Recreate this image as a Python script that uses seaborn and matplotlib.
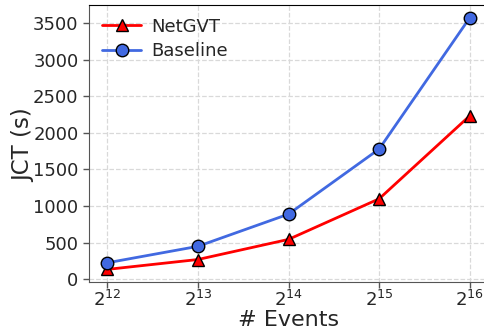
import matplotlib
matplotlib.use("Agg")
import matplotlib.pyplot as plt
import seaborn as sns
import pandas as pd

# Job completion time versus number of events
events = [2**12, 2**13, 2**14, 2**15, 2**16]
netgvt_jct = [135, 270, 545, 1100, 2235]
baseline_jct = [225, 450, 890, 1780, 3575]

sns.set_style("white")
plt.rcParams['font.family'] = ['DejaVu Sans']

fig = plt.figure(figsize=(4.84, 3.34), dpi=100)
ax = fig.add_axes([89 / 484, 52 / 334, 399 / 484, 277 / 334])

df_net = pd.DataFrame({"events": events, "jct": netgvt_jct})
df_base = pd.DataFrame({"events": events, "jct": baseline_jct})

sns.lineplot(data=df_net, x="events", y="jct", ax=ax, color="red", linewidth=2,
             marker="^", markersize=9, markerfacecolor="red",
             markeredgecolor="black", markeredgewidth=1, label="NetGVT")
sns.lineplot(data=df_base, x="events", y="jct", ax=ax, color="royalblue", linewidth=2,
             marker="o", markersize=9, markerfacecolor="royalblue",
             markeredgecolor="black", markeredgewidth=1, label="Baseline")

ax.set_xscale("log", base=2)
ax.set_xticks(events)
ax.set_yticks([0, 500, 1000, 1500, 2000, 2500, 3000, 3500])
ax.grid(True, linestyle="--", color="#d9d9d9", linewidth=0.9)
ax.set_axisbelow(True)

for side in ["left", "bottom"]:
    ax.spines[side].set_color("#555555")
ax.spines["top"].set_color("black")
ax.tick_params(axis="both", which="major", labelsize=13, length=4, width=1,
               color="#555555", direction="out", left=True, bottom=True)
ax.tick_params(axis="x", which="major", pad=2)
ax.tick_params(axis="x", which="minor", bottom=False)

ax.set_xlabel("# Events", fontsize=16, labelpad=0)
ax.set_ylabel("JCT (s)", fontsize=16.5, va="center")
ax.yaxis.set_label_coords(-0.163, 0.495)

ax.legend(loc="upper left", frameon=False, fontsize=13, handlelength=2.2,
          handletextpad=0.55, labelspacing=0.35, borderaxespad=0.3)

fig.savefig("out.png", dpi=100)
